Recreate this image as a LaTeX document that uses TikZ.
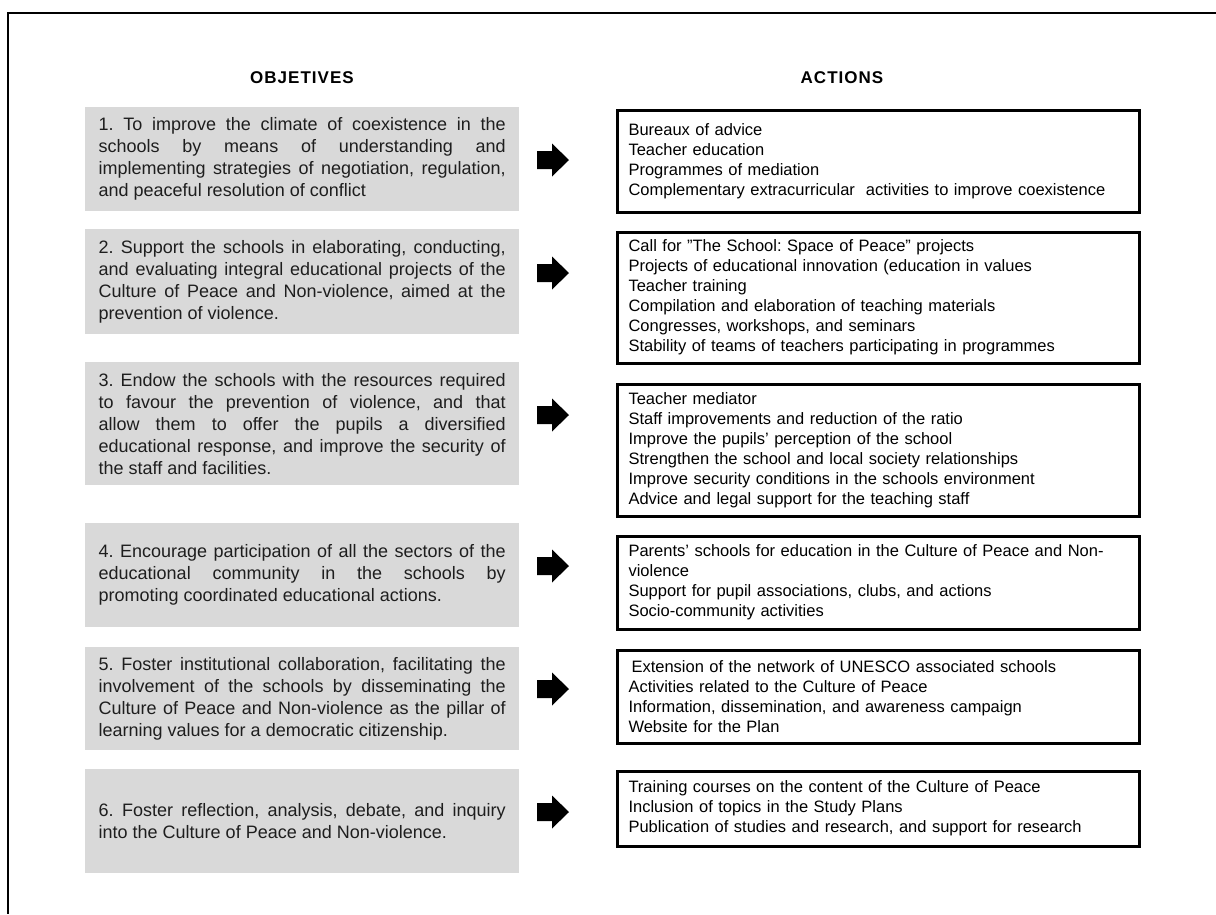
\documentclass[tikz,border=0pt]{standalone}
\usepackage{fontspec}
\setmainfont{Liberation Sans}
\frenchspacing
\definecolor{objfill}{RGB}{217,217,217}
\definecolor{txt}{RGB}{30,30,30}
\tikzset{
  objbox/.style={anchor=north west, fill=objfill, inner xsep=13.5pt, inner ysep=0pt,
    text width=407pt, align=justify, text=txt, font=\fontsize{18}{22}\selectfont\frenchspacing},
  actbox/.style={anchor=north west, draw=black, line width=3pt, inner xsep=11.5pt, inner ysep=0pt,
    text width=499pt, align=left, text=black, font=\fontsize{16.5}{20}\selectfont\frenchspacing},
  heading/.style={anchor=base, inner sep=0pt, font=\fontsize{17}{20}\selectfont\bfseries\addfontfeature{LetterSpace=6}},
  blockarrow/.pic={\fill[black] (-15,-9) -- (0,-9) -- (0,-16.5) -- (17,0) -- (0,16.5) -- (0,9) -- (-15,9) -- cycle;}
}
\begin{document}
\begin{tikzpicture}[x=1pt,y=-1pt]
\useasboundingbox (0,0) rectangle (1216,914);
\coordinate (ftr) at (1216,13);
\coordinate (ftl) at (8,13);
\coordinate (fbl) at (8,914);
\draw[line width=1.5pt] (ftr) -- (ftl) -- (fbl);

\node[heading] (hobj) at (302,83) {OBJETIVES};
\node[heading] (hact) at (842,83) {ACTIONS};

\node[objbox, minimum height=104pt] (o1) at (85,107) {1. To improve the climate of coexistence in the\linebreak schools by means of understanding and\linebreak implementing strategies of negotiation, regulation,\linebreak and peaceful resolution of conflict};
\node[objbox, minimum height=105pt] (o2) at (85,229) {2. Support the schools in elaborating, conducting,\linebreak and evaluating integral educational projects of the\linebreak Culture of Peace and Non-violence, aimed at the\linebreak prevention of violence.};
\node[objbox, minimum height=123pt] (o3) at (85,362) {3. Endow the schools with the resources required\linebreak to favour the prevention of violence, and that\linebreak allow them to offer the pupils a diversified\linebreak educational response, and improve the security of\linebreak the staff and facilities.};
\node[objbox, minimum height=104pt] (o4) at (85,523) {4. Encourage participation of all the sectors of the\linebreak educational community in the schools by\linebreak promoting coordinated educational actions.};
\node[objbox, minimum height=103pt] (o5) at (85,647) {5. Foster institutional collaboration, facilitating the\linebreak involvement of the schools by disseminating the\linebreak Culture of Peace and Non-violence as the pillar of\linebreak learning values for a democratic citizenship.};
\node[objbox, minimum height=104pt] (o6) at (85,769) {6. Foster reflection, analysis, debate, and inquiry\linebreak into the Culture of Peace and Non-violence.};

\node[actbox, minimum height=102pt] (a1) at (615.5,108.5) {Bureaux of advice\\Teacher education\\Programmes of mediation\\Complementary extracurricular\ \ activities to improve coexistence};
\node[actbox, minimum height=131pt] (a2) at (615.5,230.5) {Call for \symbol{34}The School: Space of Peace\symbol{34} projects\\Projects of educational innovation (education in values\\Teacher training\\Compilation and elaboration of teaching materials\\Congresses, workshops, and seminars\\Stability of teams of teachers participating in programmes};
\node[actbox, minimum height=132pt] (a3) at (615.5,382.5) {Teacher mediator\\Staff improvements and reduction of the ratio\\Improve the pupils\symbol{39} perception of the school\\Strengthen the school and local society relationships\\Improve security conditions in the schools environment\\Advice and legal support for the teaching staff};
\node[actbox, minimum height=93pt] (a4) at (615.5,534.5) {Parents\symbol{39} schools for education in the Culture of Peace and Non-\\violence\\Support for pupil associations, clubs, and actions\\Socio-community activities};
\node[actbox, minimum height=93pt] (a5) at (615.5,648.5) {\hspace*{3pt}Extension of the network of UNESCO associated schools\\Activities related to the Culture of Peace\\Information, dissemination, and awareness campaign\\Website for the Plan};
\node[actbox, minimum height=75pt] (a6) at (615.5,769.5) {Training courses on the content of the Culture of Peace\\Inclusion of topics in the Study Plans\\Publication of studies and research, and support for research};

\pic at (552,160) {blockarrow};
\pic at (552,273) {blockarrow};
\pic at (552,415) {blockarrow};
\pic at (552,566) {blockarrow};
\pic at (552,689) {blockarrow};
\pic at (552,812) {blockarrow};
\end{tikzpicture}
\end{document}
